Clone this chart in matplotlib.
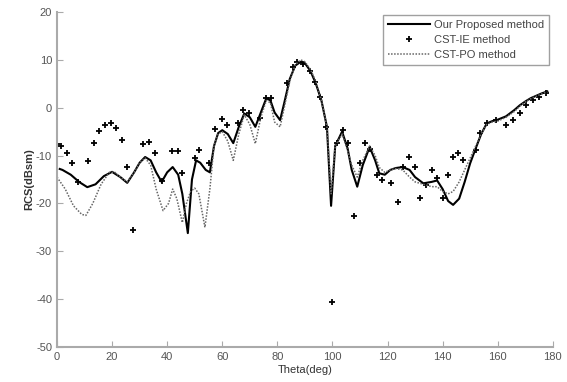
import matplotlib
matplotlib.use('Agg')
import matplotlib.pyplot as plt

# Our Proposed method (solid)
theta_prop = [1, 2, 5, 8, 11, 14, 17, 20, 23, 25.5, 28, 30, 32, 34, 36, 38, 40, 42, 44, 45.5,
              47.5, 49, 50.5, 52, 54, 55.5, 57, 58.5, 60, 62, 64, 66, 68, 70, 72, 74, 76, 77.5,
              79, 81, 82.5, 84.5, 86.5, 88.5, 90, 92, 94, 96, 98, 99.5, 101, 103.5, 105.5, 107,
              109, 111, 113.5, 115.5, 117, 119, 121, 123, 125.5, 128, 130, 133, 136, 138, 140,
              142, 143.8, 146, 148, 150, 152, 154, 156, 158, 160, 163, 166, 168, 170, 172, 174,
              176, 178]
rcs_prop = [-12.8, -13, -14, -15.5, -16.6, -16, -14.3, -13.4, -14.5, -15.7, -13.5, -11.5, -10.3,
            -11, -13.5, -15.5, -13.5, -12.4, -14, -18, -26.2, -15, -11, -11.5, -13, -13.5, -8,
            -5.3, -4.7, -5.5, -7.4, -4, -1.2, -2, -4, -1, 2, 1.5, -1, -2.6, 1, 6, 8.8, 9.6, 9.3,
            7.7, 5, 1.5, -4, -20.5, -8, -5, -8.5, -13, -16.5, -12, -8.2, -11, -13.7, -14, -13,
            -12.6, -12.4, -13, -14.5, -15.8, -15.5, -15.2, -17, -19.5, -20.3, -19, -15.5, -11.6,
            -8.5, -5.5, -3.3, -2.8, -2.5, -1.8, -0.5, 0.5, 1.3, 2, 2.5, 3, 3.4]

# CST-PO method (dotted)
theta_po = [0, 3, 6, 9, 10.5, 13, 16, 19, 21, 23, 25.5, 28, 30, 32, 34, 36, 38.5, 40.5, 42, 43.5,
            45.5, 47, 48.5, 50, 51.5, 53.7, 55.5, 57, 58.5, 60, 62, 64, 66, 68, 70, 72, 74, 76,
            77.5, 79, 81, 82.5, 84.5, 86.5, 88.5, 90, 92, 94, 96, 98, 99.5, 101, 103.5, 105.5,
            107, 109, 111, 113.5, 115.5, 117, 119, 121, 123, 125.5, 128, 130, 133, 136, 138, 140,
            142, 143.8, 146, 148, 150, 152, 154, 156, 158, 160, 163, 166, 168, 170, 172, 174,
            176, 178]
rcs_po = [-14.5, -17, -20.5, -22.3, -22.5, -20, -16, -13.5, -13.5, -14.5, -15.5, -13.5, -11.5,
          -10.5, -12, -17, -21.5, -20, -17, -19, -24, -20, -17.5, -16.8, -18, -25, -17, -8, -5.5,
          -5, -7, -11, -5.5, -1.5, -3.5, -7.5, -2, 1.5, 1, -3, -4, 0, 5.5, 9, 10, 9.6, 8, 5.5,
          1.5, -4, -18, -8, -5.5, -9, -12, -14.5, -11, -8, -10, -12.5, -13.5, -13, -12.7, -13,
          -14.5, -15.5, -16, -16.5, -16.5, -17.5, -18, -17.5, -15.5, -13, -10.5, -8, -5.5, -3.5,
          -3, -2.8, -2, -0.8, 0.3, 1.2, 1.9, 2.4, 2.9, 3.3]

# CST-IE method (markers)
theta_ie = [0, 1.4, 3.5, 5.3, 7.8, 11.3, 13.3, 15.3, 17.5, 19.6, 21.5, 23.5, 25.3, 27.6, 31.3,
            33.5, 35.6, 38, 41.6, 44, 45.4, 50, 51.6, 55.3, 57.5, 59.8, 61.6, 65.8, 67.6, 69.8,
            73.8, 76, 77.6, 83.5, 85.7, 87.3, 89.2, 91.8, 93.6, 95.4, 97.8, 99.7, 101.5, 103.8,
            105.6, 107.8, 110, 111.8, 113.6, 116, 117.9, 121.4, 123.7, 125.6, 127.8, 130, 131.7,
            134, 136, 137.8, 140, 142, 143.7, 145.5, 147.5, 152, 153.5, 156, 159.5, 163, 165.5,
            168, 170.4, 172.7, 175, 177.7]
rcs_ie = [-7.6, -8, -9.4, -11.6, -15.6, -11.2, -7.4, -4.9, -3.6, -3.2, -4.3, -6.8, -12.4, -25.5,
          -7.5, -7.2, -9.5, -15.4, -9.1, -9.1, -13.6, -10.6, -8.8, -11.6, -4.4, -2.4, -3.7, -3.2,
          -0.4, -1.1, -2.2, 2.1, 2.1, 5.1, 8.5, 9.5, 9.2, 7.7, 5.4, 2.3, -4, -40.7, -7.4, -4.6,
          -7.4, -22.6, -11.6, -7.4, -8.7, -14, -15.1, -15.8, -19.6, -12.4, -10.2, -12.3, -18.9,
          -16.2, -13, -14.7, -18.9, -14, -10.2, -9.5, -10.9, -8.8, -5.3, -3.2, -2.6, -3.6, -2.6,
          -1.1, 0.6, 1.6, 2.2, 3.1]

plt.rcParams['font.family'] = ['Liberation Sans', 'DejaVu Sans']
plt.rcParams['axes.unicode_minus'] = False

fig = plt.figure(figsize=(5.67, 3.82), dpi=100)
ax = fig.add_axes([0.1005, 0.0916, 0.8745, 0.877])

ax.plot(theta_prop, rcs_prop, color='black', lw=1.5, label='Our Proposed method')
ax.plot(theta_ie, rcs_ie, ls='none', marker='+', ms=5, mew=1.3, color='black', label='CST-IE method')
ax.plot(theta_po, rcs_po, color='#666666', lw=1.1, ls=(0, (1, 1)), label='CST-PO method')

ax.set_xlim(0, 180)
ax.set_ylim(-50, 20)
ax.set_xticks(range(0, 181, 20))
ax.set_yticks(range(-50, 21, 10))
ax.set_xlabel('Theta(deg)', fontsize=8, color='#333333', labelpad=2)
ax.set_ylabel('RCS(dBsm)', fontsize=8, color='#333333', labelpad=1, fontweight='bold')

for s in ['top', 'right']:
    ax.spines[s].set_visible(False)
for s in ['left', 'bottom']:
    ax.spines[s].set_color('#aaaaaa')
    ax.spines[s].set_linewidth(1.5)
ax.tick_params(direction='in', length=4, colors='#aaaaaa', labelcolor='#555555', labelsize=8)

leg = ax.legend(loc='upper right', bbox_to_anchor=(0.993, 0.99), fontsize=8, frameon=True,
                fancybox=False, handlelength=3.8, borderaxespad=0, labelspacing=0.45,
                borderpad=0.45, handletextpad=0.4)
leg.get_frame().set_edgecolor('#888888')
leg.get_frame().set_linewidth(1.0)
for t in leg.get_texts():
    t.set_color('#444444')

fig.savefig('out.png', dpi=100)
